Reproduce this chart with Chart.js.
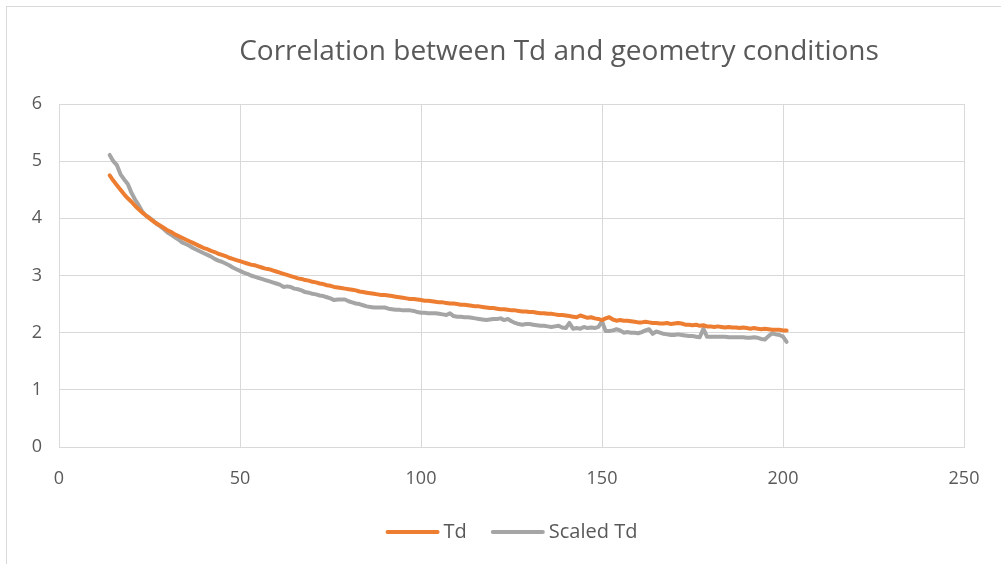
<!DOCTYPE html>
<html lang="en">
<head>
  <meta charset="UTF-8" />
  <title>Correlation between Td and geometry conditions</title>
  <script src="https://cdn.jsdelivr.net/npm/chart.js"></script>
  <style>
    body {
      margin: 0;
      width: 1001px;
      height: 564px;
      overflow: hidden;
      background: #fff;
      font-family: "Open Sans", Arial, sans-serif;
    }
    /* chart frame, goes on past the right and bottom edge like the original */
    .frame {
      position: absolute;
      left: 6px;
      top: 6px;
      width: 1200px;
      height: 700px;
      border: 1px solid #d9d9d9;
    }
    .chart-container {
      position: absolute;
      left: 0;
      top: 0;
      width: 1001px;
      height: 564px;
    }
  </style>
</head>
<body>
  <div class="frame"></div>
  <div class="chart-container">
    <canvas id="myChart"></canvas>
  </div>

  <script>
    // ---------------------
    // data
    // ---------------------
    const titleText = 'Correlation between Td and geometry conditions';
    const seriesNames = ['Td', 'Scaled Td'];

    const xValues = [
      14, 15, 16, 17, 18, 19, 20, 21, 22, 23, 24, 25, 26, 27, 28, 29, 30, 31, 32, 33,
      34, 35, 36, 37, 38, 39, 40, 41, 42, 43, 44, 45, 46, 47, 48, 49, 50, 51, 52, 53,
      54, 55, 56, 57, 58, 59, 60, 61, 62, 63, 64, 65, 66, 67, 68, 69, 70, 71, 72, 73,
      74, 75, 76, 77, 78, 79, 80, 81, 82, 83, 84, 85, 86, 87, 88, 89, 90, 91, 92, 93,
      94, 95, 96, 97, 98, 99, 100, 101, 102, 103, 104, 105, 106, 107, 108, 109, 110, 111, 112, 113,
      114, 115, 116, 117, 118, 119, 120, 121, 122, 123, 124, 125, 126, 127, 128, 129, 130, 131, 132, 133,
      134, 135, 136, 137, 138, 139, 140, 141, 142, 143, 144, 145, 146, 147, 148, 149, 150, 151, 152, 153,
      154, 155, 156, 157, 158, 159, 160, 161, 162, 163, 164, 165, 166, 167, 168, 169, 170, 171, 172, 173,
      174, 175, 176, 177, 178, 179, 180, 181, 182, 183, 184, 185, 186, 187, 188, 189, 190, 191, 192, 193,
      194, 195, 196, 197, 198, 199, 200, 201
    ];

    const tdValues = [
      4.75, 4.66, 4.58, 4.50, 4.42, 4.35, 4.29, 4.22, 4.16, 4.10, 4.05, 4.00, 3.95, 3.91, 3.87, 3.83, 3.79, 3.76, 3.72, 3.69,
      3.66, 3.63, 3.60, 3.57, 3.54, 3.51, 3.48, 3.46, 3.43, 3.41, 3.38, 3.36, 3.34, 3.31, 3.29, 3.27, 3.25, 3.23, 3.21, 3.19,
      3.18, 3.16, 3.14, 3.12, 3.11, 3.09, 3.07, 3.05, 3.03, 3.01, 2.99, 2.97, 2.95, 2.94, 2.92, 2.91, 2.89, 2.88, 2.86, 2.85,
      2.83, 2.82, 2.80, 2.79, 2.78, 2.77, 2.76, 2.75, 2.74, 2.72, 2.71, 2.70, 2.69, 2.68, 2.67, 2.66, 2.66, 2.65, 2.64, 2.63,
      2.62, 2.61, 2.60, 2.59, 2.59, 2.58, 2.57, 2.56, 2.56, 2.55, 2.54, 2.53, 2.53, 2.52, 2.51, 2.51, 2.50, 2.49, 2.49, 2.48,
      2.47, 2.46, 2.46, 2.45, 2.44, 2.43, 2.43, 2.42, 2.41, 2.41, 2.40, 2.39, 2.39, 2.38, 2.37, 2.37, 2.36, 2.36, 2.35, 2.34,
      2.34, 2.33, 2.33, 2.32, 2.31, 2.31, 2.30, 2.29, 2.28, 2.27, 2.30, 2.28, 2.26, 2.27, 2.25, 2.24, 2.22, 2.25, 2.27, 2.23,
      2.21, 2.22, 2.21, 2.21, 2.20, 2.19, 2.18, 2.18, 2.19, 2.18, 2.17, 2.17, 2.16, 2.16, 2.17, 2.15, 2.16, 2.17, 2.16, 2.14,
      2.14, 2.13, 2.14, 2.12, 2.13, 2.11, 2.11, 2.10, 2.11, 2.10, 2.09, 2.10, 2.09, 2.09, 2.08, 2.09, 2.08, 2.07, 2.08, 2.07,
      2.06, 2.07, 2.06, 2.05, 2.05, 2.05, 2.04, 2.04
    ];

    const scaledTdValues = [
      5.11, 5.00, 4.93, 4.77, 4.68, 4.60, 4.45, 4.33, 4.23, 4.12, 4.05, 4.01, 3.96, 3.90, 3.86, 3.81, 3.75, 3.71, 3.67, 3.63,
      3.58, 3.55, 3.52, 3.48, 3.45, 3.42, 3.39, 3.36, 3.33, 3.29, 3.26, 3.24, 3.21, 3.18, 3.14, 3.11, 3.08, 3.05, 3.03, 3.00,
      2.98, 2.96, 2.94, 2.92, 2.90, 2.88, 2.86, 2.84, 2.80, 2.81, 2.80, 2.77, 2.76, 2.74, 2.71, 2.70, 2.68, 2.67, 2.65, 2.64,
      2.62, 2.60, 2.57, 2.58, 2.58, 2.58, 2.55, 2.53, 2.51, 2.50, 2.48, 2.46, 2.45, 2.44, 2.44, 2.44, 2.44, 2.42, 2.41, 2.40,
      2.40, 2.39, 2.39, 2.39, 2.38, 2.36, 2.35, 2.35, 2.34, 2.34, 2.34, 2.33, 2.32, 2.31, 2.34, 2.29, 2.28, 2.28, 2.27, 2.27,
      2.26, 2.25, 2.24, 2.23, 2.22, 2.23, 2.24, 2.24, 2.25, 2.22, 2.24, 2.20, 2.17, 2.15, 2.14, 2.15, 2.15, 2.14, 2.13, 2.12,
      2.12, 2.11, 2.10, 2.11, 2.12, 2.09, 2.08, 2.17, 2.07, 2.08, 2.07, 2.10, 2.08, 2.09, 2.08, 2.10, 2.20, 2.03, 2.03, 2.04,
      2.06, 2.04, 2.00, 2.01, 2.00, 2.00, 1.99, 2.01, 2.04, 2.06, 1.98, 2.02, 2.00, 1.98, 1.97, 1.96, 1.96, 1.97, 1.96, 1.95,
      1.94, 1.94, 1.93, 1.92, 2.07, 1.93, 1.93, 1.93, 1.93, 1.93, 1.93, 1.92, 1.92, 1.92, 1.92, 1.92, 1.91, 1.91, 1.92, 1.91,
      1.89, 1.88, 1.94, 1.99, 1.97, 1.96, 1.93, 1.84, 1.88
    ];

    const xTicks = [0, 50, 100, 150, 200, 250];
    const yTicks = [0, 1, 2, 3, 4, 5, 6];

    // ---------------------
    // title + legend drawn by hand (Excel style)
    // ---------------------
    const textColor = '#595959';
    const fontName = '"Open Sans", Arial, sans-serif';

    const excelDecor = {
      id: 'excelDecor',
      afterDraw(chart) {
        const c = chart.ctx;
        c.save();
        c.fillStyle = textColor;
        c.textBaseline = 'middle';

        // title is centred on the full (wider) chart frame
        c.font = '28px ' + fontName;
        c.textAlign = 'center';
        c.fillText(titleText, 559, 52);

        // legend, centred under the plot area
        c.font = '20px ' + fontName;
        c.textAlign = 'left';
        const lineLen = 54, gap = 4, itemGap = 24;
        const ds = chart.data.datasets;
        let total = 0;
        ds.forEach(d => { total += lineLen + gap + c.measureText(d.label).width; });
        total += itemGap * (ds.length - 1);
        const area = chart.chartArea;
        let x = (area.left + area.right) / 2 - total / 2;
        const y = 532;
        ds.forEach(d => {
          c.strokeStyle = d.borderColor;
          c.lineWidth = 4;
          c.lineCap = 'round';
          c.beginPath();
          c.moveTo(x + 2, y);
          c.lineTo(x + lineLen - 2, y);
          c.stroke();
          x += lineLen + gap;
          c.fillText(d.label, x, y);
          x += c.measureText(d.label).width + itemGap;
        });
        c.restore();
      }
    };

    const ctx = document.getElementById('myChart').getContext('2d');

    new Chart(ctx, {
      type: 'line',
      data: {
        datasets: [{
          label: seriesNames[0],
          data: xValues.map((x, i) => ({ x: x, y: tdValues[i] })),
          borderColor: '#ED7D31',
          backgroundColor: '#ED7D31',
          borderWidth: 4,
          pointRadius: 0,
          tension: 0,
          borderJoinStyle: 'round',
          borderCapStyle: 'round',
          fill: false
        }, {
          label: seriesNames[1],
          data: xValues.map((x, i) => ({ x: x, y: scaledTdValues[i] })),
          borderColor: '#A5A5A5',
          backgroundColor: '#A5A5A5',
          borderWidth: 4,
          pointRadius: 0,
          tension: 0,
          borderJoinStyle: 'round',
          borderCapStyle: 'round',
          fill: false
        }]
      },
      options: {
        responsive: true,
        maintainAspectRatio: false,
        animation: false,
        layout: {
          padding: { left: 19, right: 37, top: 104, bottom: 77 }
        },
        scales: {
          x: {
            type: 'linear',
            min: xTicks[0],
            max: xTicks[xTicks.length - 1],
            afterBuildTicks: axis => { axis.ticks = xTicks.map(v => ({ value: v })); },
            afterFit: axis => { axis.height = 40; },
            grid: { color: '#d9d9d9', lineWidth: 1, drawTicks: false },
            border: { color: '#d9d9d9', width: 1 },
            ticks: {
              color: textColor,
              font: { family: fontName, size: 18 },
              padding: 21,
              maxRotation: 0
            }
          },
          y: {
            min: yTicks[0],
            max: yTicks[yTicks.length - 1],
            afterBuildTicks: axis => { axis.ticks = yTicks.map(v => ({ value: v })); },
            afterFit: axis => { axis.width = 40; },
            grid: { color: '#d9d9d9', lineWidth: 1, drawTicks: false },
            border: { color: '#d9d9d9', width: 1 },
            ticks: {
              color: textColor,
              font: { family: fontName, size: 18 },
              padding: 17
            }
          }
        },
        plugins: {
          legend: { display: false },
          tooltip: { enabled: false }
        }
      },
      plugins: [excelDecor]
    });
  </script>
</body>
</html>
